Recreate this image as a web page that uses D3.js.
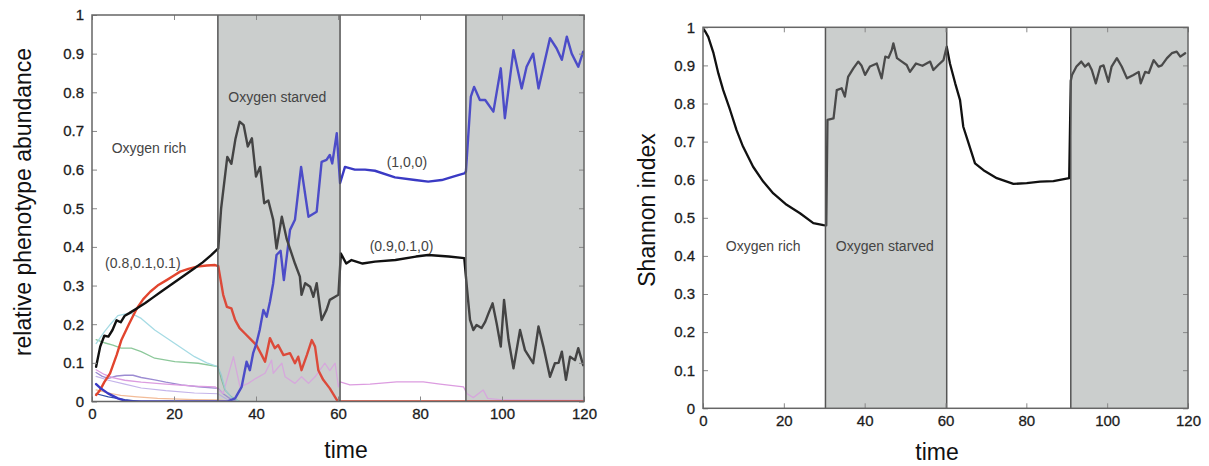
<!DOCTYPE html>
<html>
<head>
<meta charset="utf-8">
<script src="https://cdn.jsdelivr.net/npm/d3@7"></script>
<style>
  body { margin: 0; background: #fff; }
  svg { display: block; font-family: "Liberation Sans", Arial, sans-serif; }
</style>
</head>
<body>
<div id="chart"></div>
<script>
// ---- data ----
const timeTicks = [0, 20, 40, 60, 80, 100, 120];
const valueTicks = [0, 0.1, 0.2, 0.3, 0.4, 0.5, 0.6, 0.7, 0.8, 0.9, 1];

// shaded (oxygen starved) periods
const leftShade = [[30.7, 60.5], [91.2, 120]];
const rightShade = [[30.3, 60.3], [91, 120]];

// left panel: relative phenotype abundance, [time, value]
const blackPts = [[1,0.09],[2,0.142],[3,0.17],[4,0.168],[5,0.185],[6,0.21],[7,0.205],[8,0.222],[9,0.228],[11,0.241],[13,0.255],[15,0.27],[17,0.285],[19,0.3],[21,0.315],[23,0.33],[25,0.345],[27,0.36],[29,0.378],[30.8,0.396],
  [31.5,0.5],[33,0.633],[34,0.615],[35,0.68],[36,0.724],[37,0.715],[38,0.66],[39,0.681],[40,0.582],[41,0.607],[42,0.513],[43,0.52],[44.2,0.47],[45,0.396],[46.3,0.478],[47.5,0.42],[49.5,0.357],[50.7,0.323],[51.1,0.276],[52,0.306],[53.2,0.297],[54,0.271],[54.8,0.306],[56,0.211],[57.2,0.237],[58,0.263],[59.3,0.271],[60.1,0.276],
  [60.7,0.383],[62,0.357],[63.3,0.366],[66,0.357],[69,0.362],[74,0.366],[79,0.375],[82,0.379],[87,0.375],[90.8,0.371],
  [91.5,0.288],[92.2,0.211],[93,0.185],[93.8,0.198],[95,0.19],[95.9,0.206],[96.7,0.228],[97.7,0.254],[98.7,0.202],[99.7,0.142],[100.5,0.263],[101.6,0.159],[102.8,0.086],[104.4,0.185],[105.6,0.133],[107.6,0.099],[108.9,0.194],[110.1,0.142],[111.7,0.064],[112.9,0.099],[113.8,0.1],[114.6,0.129],[115.6,0.056],[116.6,0.116],[117.8,0.107],[118.6,0.138],[119.8,0.094]];

const redPts = [[1,0.017],[2,0.03],[3,0.05],[4.4,0.073],[6,0.12],[7.2,0.16],[9,0.2],[10.9,0.24],[12.5,0.265],[14.2,0.284],[16,0.3],[18.2,0.314],[20,0.326],[21.5,0.336],[23.5,0.343],[25.6,0.349],[28,0.352],[30,0.353],[30.8,0.35],
  [32,0.276],[32.9,0.245],[34,0.241],[34.9,0.211],[36,0.19],[37.3,0.176],[38.9,0.159],[40.1,0.146],[41.4,0.12],[42.2,0.103],[43.4,0.164],[44.6,0.138],[45.4,0.146],[46.7,0.12],[48.3,0.125],[49.5,0.099],[50.3,0.116],[51.1,0.081],[52.4,0.12],[53.6,0.159],[54.4,0.142],[55.2,0.081],[56.4,0.056],[58,0.034],[59.7,0.004],[60.5,0],[120,0]];

const bluePts = [[1,0.045],[2,0.035],[3.9,0.021],[6.3,0.008],[8,0.002],[10,0],[33,0],[34.9,0.008],[36.5,0.038],[37.7,0.103],[38.5,0.081],[39.3,0.125],[40.1,0.15],[40.9,0.185],[41.8,0.237],[42.6,0.219],[43.4,0.258],[44.2,0.306],[45,0.379],[46,0.39],[46.8,0.314],[48.3,0.444],[49.5,0.47],[51,0.607],[52.8,0.478],[54.8,0.491],[56,0.62],[57.2,0.625],[58,0.638],[58.6,0.616],[59.7,0.694],[60.5,0.565],
  [61.7,0.607],[64.1,0.6],[66.6,0.6],[69,0.597],[73.9,0.58],[78.8,0.573],[82,0.569],[85.3,0.573],[88.5,0.583],[90.8,0.59],[91.2,0.595],
  [92.4,0.789],[93.2,0.814],[94.6,0.78],[95.9,0.78],[97.9,0.75],[99.7,0.862],[100.7,0.733],[102.8,0.909],[104.8,0.81],[106,0.866],[107.6,0.9],[108.9,0.81],[111.7,0.94],[113.3,0.914],[114.6,0.884],[115.8,0.944],[117,0.9],[118.6,0.866],[119.8,0.905]];

const cyanPts = [[1,0.15],[3,0.18],[4.5,0.2],[6.3,0.222],[8,0.226],[9.6,0.228],[12,0.215],[15.3,0.185],[20.2,0.15],[25,0.116],[28,0.1],[30.7,0.09],[31.5,0.07],[32.5,0.03],[34,0.01],[36,0]];
const greenPts = [[1,0.16],[3,0.152],[5.1,0.146],[7.1,0.138],[9.6,0.138],[12,0.129],[15.3,0.112],[20.2,0.103],[25.9,0.099],[30.7,0.09],[31.6,0.056],[32.4,0.03],[34,0.012],[36,0]];
const purplePts = [[1,0.075],[2.5,0.065],[4,0.06],[6,0.066],[8,0.068],[10,0.068],[12,0.062],[15.3,0.056],[18,0.05],[21.8,0.043],[26,0.038],[30.7,0.034],[32,0.02],[34,0.005],[36,0]];
const pinkPts = [[1,0.082],[3,0.07],[5,0.062],[8,0.055],[12,0.05],[18,0.045],[25,0.04],[30,0.038],[31,0.03],[32,0.021],[33,0.06],[34.5,0.116],[36.1,0.038],[38.1,0.047],[40,0.06],[42.2,0.073],[43.8,0.107],[44.2,0.073],[46.3,0.099],[47.1,0.064],[49.5,0.047],[51.1,0.064],[52.8,0.047],[54.4,0.064],[56.8,0.099],[58,0.08],[59.3,0.099],[60.1,0.038],
  [60.5,0.051],[62.9,0.043],[67.8,0.045],[74.3,0.051],[80.8,0.051],[84.9,0.045],[90.6,0.038],[91.5,0.02],[93,0.01],[95.4,0.03],[96.5,0.008],[100,0.004],[120,0.003]];
const lavenderPts = [[1,0.065],[4,0.055],[8,0.045],[12,0.035],[18,0.028],[25,0.022],[30.7,0.02],[33,0.005],[35,0]];
const orangePts = [[1,0.03],[4,0.022],[7,0.016],[11,0.012],[16,0.008],[25,0.005],[31,0.004],[34,0]];
const navyPts = [[1,0.02],[4,0.012],[8,0.005],[12,0]];

// right panel: Shannon index
const shannonPts = [[0,0.998],[0.5,0.99],[1.3,0.975],[2.6,0.932],[3.8,0.879],[5,0.835],[6.7,0.783],[8.3,0.73],[9.9,0.687],[12.4,0.634],[14.9,0.595],[17.4,0.564],[20.7,0.534],[24,0.512],[27.3,0.486],[29.8,0.481],[30.5,0.48],
  [30.8,0.757],[32.3,0.761],[33.1,0.835],[34.3,0.84],[35.1,0.818],[35.9,0.87],[37.2,0.892],[38.4,0.91],[39.2,0.9],[40.1,0.875],[41.3,0.897],[43,0.905],[44.2,0.866],[45.1,0.923],[45.9,0.92],[46.7,0.94],[47.1,0.958],[48,0.919],[49.2,0.91],[50.4,0.901],[51.2,0.883],[52.7,0.905],[54.3,0.899],[56.2,0.91],[57,0.888],[58.2,0.901],[59.5,0.914],[60.3,0.949],
  [61.1,0.905],[62.4,0.853],[63.6,0.809],[64.4,0.739],[65.7,0.696],[67.3,0.643],[69.4,0.625],[72.7,0.604],[76.8,0.589],[80.1,0.591],[83.4,0.595],[86.7,0.596],[90.6,0.604],
  [91,0.86],[91.3,0.875],[92.4,0.897],[93.6,0.91],[94.5,0.897],[95.4,0.905],[96.2,0.888],[97.2,0.853],[98.3,0.897],[99.1,0.9],[100.3,0.857],[101.1,0.897],[102.4,0.919],[103.6,0.897],[104.9,0.866],[106.5,0.875],[107.8,0.883],[108.3,0.853],[109.4,0.883],[110.3,0.88],[111.5,0.914],[112.7,0.897],[113.5,0.9],[114.8,0.919],[116,0.932],[117.2,0.936],[118.1,0.923],[119.3,0.932]];

// text labels inside plots (time, value at baseline)
const leftLabels = [["Oxygen rich", 13.9, 0.643], ["Oxygen starved", 45.2, 0.776], ["(1,0,0)", 76.8, 0.607], ["(0.9,0.1,0)", 75.5, 0.389], ["(0.8,0.1,0.1)", 12.4, 0.345]];
const rightLabels = [["Oxygen rich", 14.9, 0.413], ["Oxygen starved", 45, 0.413]];

// ---- drawing ----
const W = 1209, H = 466;
const svg = d3.select("#chart").append("svg").attr("width", W).attr("height", H);

const xL = d3.scaleLinear().domain([0, 120]).range([92, 584]);
const yL = d3.scaleLinear().domain([0, 1]).range([401.5, 15]);
const xR = d3.scaleLinear().domain([0, 120]).range([703, 1188]);
const yR = d3.scaleLinear().domain([0, 1]).range([408.3, 27.3]);

function panel(id, x, y, series, shade, labels) {
  const g = svg.append("g");
  const [x0, x1] = x.range();
  const [y0, y1] = y.range();
  g.append("rect").attr("x", x0).attr("y", y1).attr("width", x1 - x0).attr("height", y0 - y1).attr("fill", "#fff");

  // white periods are the gaps between the shaded ones
  const white = [];
  let start = 0;
  shade.forEach(s => { white.push([start, s[0]]); start = s[1]; });
  if (start < 120) white.push([start, 120]);

  g.selectAll(".shade").data(shade).enter().append("rect")
    .attr("x", d => x(d[0])).attr("y", y1)
    .attr("width", d => x(d[1]) - x(d[0])).attr("height", y0 - y1)
    .attr("fill", "#cbcecd");

  // two clip paths: lines are a bit faded inside the shaded periods
  const clip = (name, spans) => g.append("clipPath").attr("id", name)
    .selectAll("rect").data(spans).enter().append("rect")
    .attr("x", d => x(d[0])).attr("y", y1 - 3)
    .attr("width", d => x(d[1]) - x(d[0])).attr("height", y0 - y1 + 3);
  clip(id + "w", white);
  clip(id + "s", shade);

  const line = d3.line().x(d => x(d[0])).y(d => y(d[1]));
  [["w", "color"], ["s", "faded"]].forEach(([k, c]) => {
    const lines = g.append("g").attr("clip-path", `url(#${id + k})`);
    series.forEach(s => {
      lines.append("path").datum(s.pts).attr("d", line)
        .attr("fill", "none").attr("stroke", s[c]).attr("stroke-width", s.w)
        .attr("stroke-linejoin", "round").attr("stroke-linecap", "round");
    });
  });

  const edges = [...new Set(shade.flat())].filter(t => t < 120);
  g.selectAll(".edge").data(edges).enter().append("line")
    .attr("x1", d => x(d)).attr("x2", d => x(d)).attr("y1", y1).attr("y2", y0)
    .attr("stroke", "#555").attr("stroke-width", 1.5);

  // axes with inward ticks, mirrored on top and right
  const fmt = d => String(+d.toFixed(1));
  const ax = g.append("g").attr("transform", `translate(0,${y0})`)
    .call(d3.axisBottom(x).tickValues(timeTicks).tickSizeInner(-5).tickSizeOuter(0).tickPadding(7));
  const ay = g.append("g").attr("transform", `translate(${x0},0)`)
    .call(d3.axisLeft(y).tickValues(valueTicks).tickFormat(fmt).tickSizeInner(-5).tickSizeOuter(0).tickPadding(8));
  g.append("g").attr("transform", `translate(0,${y1})`)
    .call(d3.axisTop(x).tickValues(timeTicks).tickSizeInner(-5).tickSizeOuter(0).tickFormat(""));
  g.append("g").attr("transform", `translate(${x1},0)`)
    .call(d3.axisRight(y).tickValues(valueTicks).tickSizeInner(-5).tickSizeOuter(0).tickFormat(""));
  g.selectAll(".domain").remove();
  g.selectAll(".tick line").attr("stroke", "#888");
  [ax, ay].forEach(a => a.selectAll("text").attr("font-size", 15).attr("fill", "#1c1c1c")
    .attr("font-family", "'Liberation Sans', Arial, sans-serif")
    .attr("stroke", "#1c1c1c").attr("stroke-width", 0.3));

  g.append("rect").attr("x", x0).attr("y", y1).attr("width", x1 - x0).attr("height", y0 - y1)
    .attr("fill", "none").attr("stroke", "#666").attr("stroke-width", 1.5);

  g.selectAll(".lab").data(labels).enter().append("text")
    .attr("x", d => x(d[1])).attr("y", d => y(d[2]))
    .attr("text-anchor", "middle").attr("font-size", 14).attr("fill", "#444")
    .text(d => d[0]);
  return g;
}

panel("clipL", xL, yL, [
  { pts: orangePts, color: "#f2bc98", faded: "#e6b69a", w: 1.2 },
  { pts: lavenderPts, color: "#c4b4ea", faded: "#b8aede", w: 1.2 },
  { pts: navyPts, color: "#3050a8", faded: "#5068a8", w: 1.2 },
  { pts: purplePts, color: "#9c8cd2", faded: "#9c90cc", w: 1.4 },
  { pts: pinkPts, color: "#dc9ce0", faded: "#d6a8dc", w: 1.3 },
  { pts: greenPts, color: "#8cc89a", faded: "#8ab898", w: 1.3 },
  { pts: cyanPts, color: "#a6dbe4", faded: "#9ccad2", w: 1.3 },
  { pts: redPts, color: "#e2452e", faded: "#dc4a3a", w: 2.4 },
  { pts: bluePts, color: "#3a3ac4", faded: "#4c4cc8", w: 2.4 },
  { pts: blackPts, color: "#111", faded: "#444", w: 2.4 }
], leftShade, leftLabels);

panel("clipR", xR, yR, [
  { pts: shannonPts, color: "#111", faded: "#4a4a4a", w: 2.3 }
], rightShade, rightLabels);

// axis titles
svg.append("text").attr("transform", "translate(31,202) rotate(-90)")
  .attr("text-anchor", "middle").attr("font-size", 23).attr("fill", "#111")
  .text("relative phenotype abundance");
svg.append("text").attr("x", 346).attr("y", 458)
  .attr("text-anchor", "middle").attr("font-size", 23).attr("fill", "#111").text("time");
svg.append("text").attr("transform", "translate(655,210) rotate(-90)")
  .attr("text-anchor", "middle").attr("font-size", 23).attr("fill", "#111")
  .text("Shannon index");
svg.append("text").attr("x", 937).attr("y", 460)
  .attr("text-anchor", "middle").attr("font-size", 23).attr("fill", "#111").text("time");
</script>
</body>
</html>
